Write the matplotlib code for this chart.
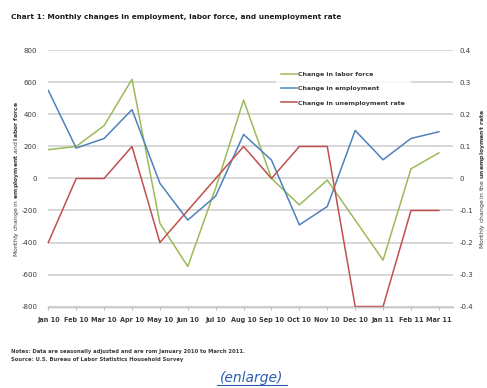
import matplotlib
matplotlib.use("Agg")
import matplotlib.pyplot as plt
from matplotlib.lines import Line2D

plt.rcParams['font.family'] = ['DejaVu Sans']

months = ['Jan 10', 'Feb 10', 'Mar 10', 'Apr 10', 'May 10', 'Jun 10', 'Jul 10', 'Aug 10',
          'Sep 10', 'Oct 10', 'Nov 10', 'Dec 10', 'Jan 11', 'Feb 11', 'Mar 11']
labor_force = [180, 200, 330, 620, -280, -550, -60, 490, 0, -165, -10, -260, -510, 60, 160]
employment = [550, 190, 250, 430, -30, -260, -110, 275, 115, -290, -175, 300, 117, 250, 292]
unemp_rate = [-0.2, 0, 0, 0.1, -0.2, -0.1, 0, 0.1, 0, 0.1, 0.1, -0.4, -0.4, -0.1, -0.1]

left_ticks = [800, 600, 400, 200, 0, -200, -400, -600, -800]
right_ticks = [0.4, 0.3, 0.2, 0.1, 0, -0.1, -0.2, -0.3, -0.4]

GREEN = '#9bbb59'
BLUE = '#4f81bd'
RED = '#c0504d'
TXT = '#3a3a3a'

fig = plt.figure(figsize=(4.87, 3.88), dpi=100)
ax = fig.add_axes([0.0992, 0.210, 0.8306, 0.660])
ax2 = ax.twinx()

x = list(range(len(months)))
ax.plot(x, labor_force, color=GREEN, lw=1.1, label='Change in labor force')
ax.plot(x, employment, color=BLUE, lw=1.1, label='Change in employment')
ax2.plot(x, unemp_rate, color=RED, lw=1.1, label='Change in unemployment rate', clip_on=False)

ax.set_xlim(0, 14.5)
ax.set_ylim(-800, 800)
ax2.set_ylim(-0.4, 0.4)

ax.set_yticks(left_ticks)
ax.set_yticklabels([str(v) for v in left_ticks])
ax2.set_yticks(right_ticks)
ax2.set_yticklabels(['0' if v == 0 else f'{v:g}' for v in right_ticks])

ax.set_xticks(x)
ax.set_xticklabels(months)

ax.grid(axis='y', color='#d4d4d4', lw=1.3)
ax.set_axisbelow(True)

for a in (ax, ax2):
    for s in ('top', 'left', 'right'):
        a.spines[s].set_visible(False)
    a.spines['bottom'].set_color('#c8c8c8')
    a.spines['bottom'].set_linewidth(1.0)

ax.tick_params(axis='y', length=0, pad=8, labelsize=5, labelcolor=TXT)
ax2.tick_params(axis='y', length=0, pad=5, labelsize=5, labelcolor=TXT)
ax.tick_params(axis='x', length=2.5, width=0.6, color='#b0b0b0', pad=5,
               labelsize=4.7, labelcolor=TXT)
for lbl in ax.get_xticklabels():
    lbl.set_fontweight('bold')

fig.text(0.033, 0.54, r'Monthly change in $\bf{employment}$ and $\bf{labor\ force}$',
         rotation=90, ha='center', va='center', fontsize=4.4, color=TXT)
fig.text(0.99, 0.54, r'Monthly change in the $\bf{unemployment\ rate}$',
         rotation=90, ha='center', va='center', fontsize=4.4, color=TXT)

handles = [Line2D([], [], color=GREEN, lw=1.1),
           Line2D([], [], color=BLUE, lw=1.1),
           Line2D([], [], color=RED, lw=1.1)]
labels = ['Change in labor force', 'Change in employment', 'Change in unemployment rate']
leg = ax2.legend(handles, labels, loc='upper left', bbox_to_anchor=(0.555, 0.95),
                 fontsize=4.5, handlelength=2.5, handletextpad=0.3, labelspacing=1.45,
                 frameon=True, fancybox=False, borderpad=0.8)
leg.get_frame().set_facecolor('white')
leg.get_frame().set_edgecolor('white')
for t in leg.get_texts():
    t.set_color(TXT)
    t.set_fontweight('bold')

fig.text(0.023, 0.956, 'Chart 1: Monthly changes in employment, labor force, and unemployment rate',
         fontsize=5.35, fontweight='bold', color='#1a1a1a', ha='left', va='center')

fig.text(0.023, 0.095, 'Notes: Data are seasonally adjusted and are rom January 2010 to March 2011.',
         fontsize=3.8, fontweight='bold', color=TXT, ha='left', va='center')
fig.text(0.023, 0.074, 'Source: U.S. Bureau of Labor Statistics Household Survey',
         fontsize=3.8, fontweight='bold', color=TXT, ha='left', va='center')

fig.text(0.517, 0.025, '(enlarge)', fontsize=10, style='italic', color='#2a5db0',
         ha='center', va='center')
fig.add_artist(Line2D([0.445, 0.59], [0.007, 0.007], color='#2a5db0', lw=0.8,
                      transform=fig.transFigure))

fig.savefig('out.png', dpi=100)
